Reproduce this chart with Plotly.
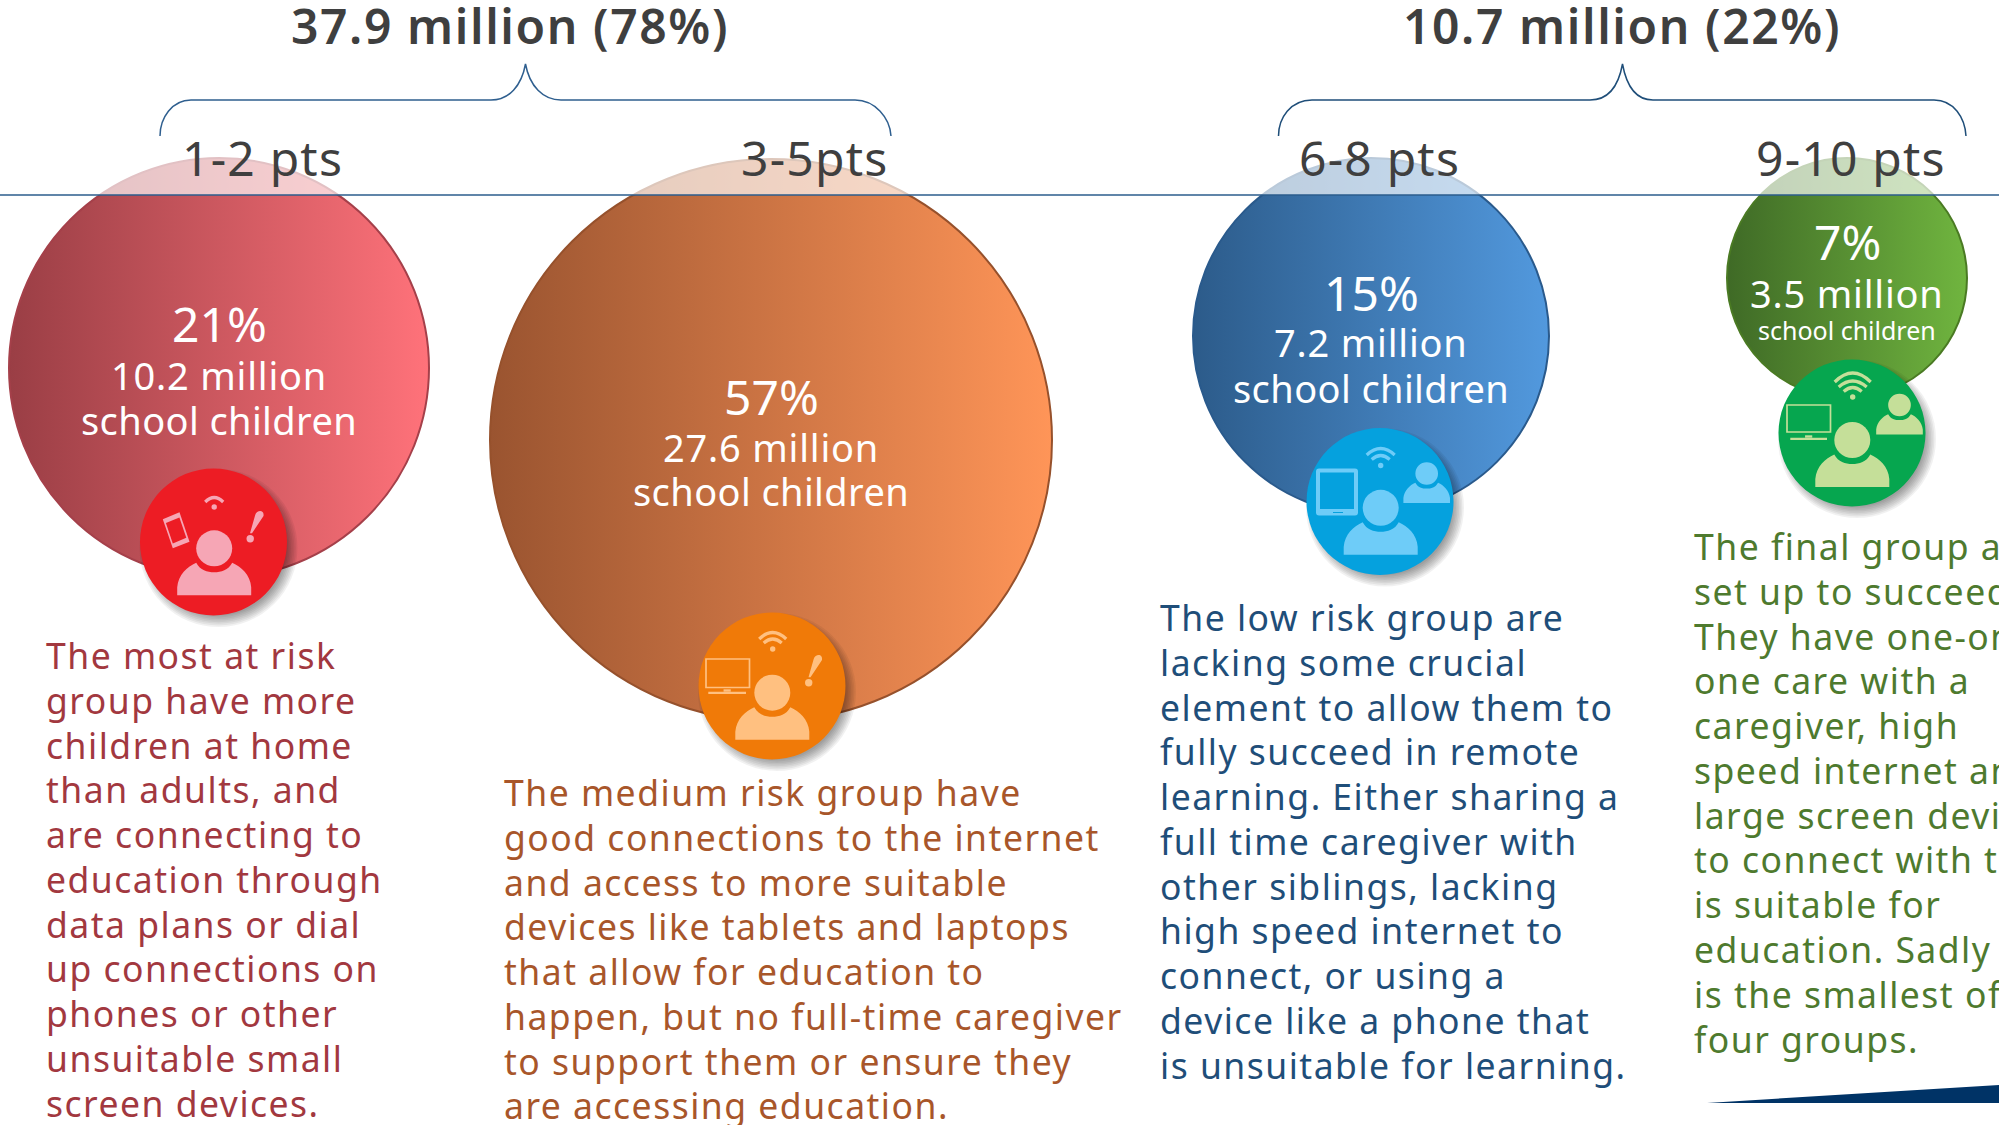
import plotly.graph_objects as go

# ---- data -------------------------------------------------------------
score_bands = ["1-2 pts", "3-5pts", "6-8 pts", "9-10 pts"]
share_pct = [21, 57, 15, 7]
children_millions = [10.2, 27.6, 7.2, 3.5]
group_totals = ["37.9 million (78%)", "10.7 million (22%)"]

red_text = ["The most at risk", "group have more", "children at home", "than adults, and",
            "are connecting to", "education through", "data plans or dial",
            "up connections on", "phones or other", "unsuitable small", "screen devices."]
orange_text = ["The medium risk group have", "good connections to the internet",
               "and access to more suitable", "devices like tablets and laptops",
               "that allow for education to", "happen, but no full-time caregiver",
               "to support them or ensure they", "are accessing education."]
blue_text = ["The low risk group are", "lacking some crucial", "element to allow them to",
             "fully succeed in remote", "learning. Either sharing a", "full time caregiver with",
             "other siblings, lacking", "high speed internet to", "connect, or using a",
             "device like a phone that", "is unsuitable for learning."]
green_text = ["The final group are", "set up to succeed.", "They have one-on-",
              "one care with a", "caregiver, high", "speed internet and",
              "large screen devices", "to connect with that", "is suitable for",
              "education. Sadly this", "is the smallest of", "four groups."]
body_text = [red_text, orange_text, blue_text, green_text]

# ---- layout and styling ----------------------------------------------
W, H = 1999, 1125
FONT = "Noto Sans"
DARK_TEXT = "#3f3f3f"
RULE = "#2b5c8c"
RULE_Y = 195

bubble_x = [219, 771, 1371, 1847]
bubble_y = [368, 440, 336, 278]
bubble_d = [420, 562, 356, 240]
bubble_dark = ["#9a3e45", "#9a5430", "#2c5b8a", "#3f6a26"]
bubble_light = ["#ff727a", "#ff9558", "#5299de", "#70b53f"]
bubble_edge = ["#a5404a", "#96512c", "#2a5a8c", "#4a7a23"]
body_colors = ["#a2383f", "#a8562a", "#1f4e79", "#4e7a2e"]
body_x = [46, 504, 1160, 1694]
body_y0 = [655, 792, 617, 546]
LINE_STEP = 44.78
BODY_SIZE = 35.5
BODY_TRACKING = 1.5

label_rows = [(323, 375, 420), (396, 447, 491), (292, 342, 388), (241, 293, 330)]
label_sizes = [(48, 38, 38), (48, 38, 38), (48, 38, 38), (48, 38, 25)]
label_tracking = [(0, 0.8, 0.4), (0, 0.8, 0.4), (0, 0.8, 0.4), (0, 0.8, 0)]
band_x = [262, 814, 1379, 1851]
BAND_Y = 157
total_x = [510, 1622]
TOTAL_Y = 25

icon_x = [213.5, 772, 1380, 1852]
icon_y = [542, 686, 501.5, 433]
ICON_R = 73.5
icon_fill = ["#ed1c24", "#f07a08", "#05a1de", "#06a64f"]
icon_glyph = ["#f6a6b5", "#ffc080", "#6eccf8", "#c5df99"]

fig = go.Figure()

# Bubbles, one trace each so every gradient and outline stays independent.
for i in range(4):
    fig.add_trace(go.Scatter(
        x=[bubble_x[i]], y=[bubble_y[i]], mode="markers", hoverinfo="skip", showlegend=False,
        marker=dict(size=bubble_d[i], color=bubble_dark[i],
                    gradient=dict(type="horizontal", color=bubble_light[i]),
                    line=dict(color=bubble_edge[i], width=2)),
    ))

shapes = []


def add_path(path, fill=None, line=None, width=0):
    shapes.append(dict(type="path", path=path, layer="above", xref="x", yref="y",
                       fillcolor=fill if fill else "rgba(0,0,0,0)",
                       line=dict(color=line if line else "rgba(0,0,0,0)", width=width)))


def add_circle(cx, cy, r, fill, opacity=1):
    shapes.append(dict(type="circle", layer="above", xref="x", yref="y", x0=cx - r, x1=cx + r,
                       y0=cy - r, y1=cy + r, fillcolor=fill, opacity=opacity,
                       line=dict(width=0)))


def add_rect(x0, y0, x1, y1, fill):
    shapes.append(dict(type="rect", layer="above", xref="x", yref="y", x0=x0, x1=x1, y0=y0, y1=y1,
                       fillcolor=fill, line=dict(width=0)))


# Wash over everything above the rule, then the rule itself.
shapes.append(dict(type="rect", layer="above", xref="x", yref="y", x0=0, x1=W, y0=0, y1=RULE_Y,
                   fillcolor="white", opacity=0.68, line=dict(width=0)))
shapes.append(dict(type="line", layer="above", xref="x", yref="y", x0=0, x1=W, y0=RULE_Y,
                   y1=RULE_Y, line=dict(color=RULE, width=1.6)))


def brace(x0, x1, x2, x3, tip, x4, x5):
    return (f"M {x0},136 C {x0},118 {x0 + 12},100 {x1},100 L {x2},100 "
            f"C {x2 + 18},100 {tip - 4},86 {tip},64 C {tip + 4},86 {x4 - 18},100 {x4},100 "
            f"L {x5},100 C {x5 + 20},100 {x3 - 1},118 {x3},136")


add_path(brace(160, 191, 491, 891, 525.5, 561, 855), line="#2f5f8f", width=1.5)
add_path(brace(1278.5, 1312, 1590, 1966, 1622.5, 1653, 1934), line="#1f4e79", width=1.5)

# Corner wedge at the bottom of the page.
add_path(f"M 1707,1103 L {W},1085 L {W},1103 Z", fill="#003366")


def person(cx, head_y, scale, color):
    add_circle(cx, head_y, 18 * scale, color)
    hw, top, neck, bot = 37 * scale, 14.5 * scale, 24 * scale, 47 * scale
    shoulder = 18 * scale
    add_path(
        f"M {cx - hw},{head_y + bot} L {cx - hw},{head_y + bot - 8 * scale} "
        f"C {cx - hw + 1},{head_y + top + 12 * scale} {cx - 27 * scale},{head_y + top + 4 * scale} "
        f"{cx - shoulder},{head_y + top} "
        f"C {cx - 14 * scale},{head_y + neck - 2 * scale} {cx - 7 * scale},{head_y + neck} {cx},{head_y + neck} "
        f"C {cx + 7 * scale},{head_y + neck} {cx + 14 * scale},{head_y + neck - 2 * scale} {cx + shoulder},{head_y + top} "
        f"C {cx + 27 * scale},{head_y + top + 4 * scale} {cx + hw - 1},{head_y + top + 12 * scale} "
        f"{cx + hw},{head_y + bot - 8 * scale} L {cx + hw},{head_y + bot} Z",
        fill=color)


def wifi(cx, dot_y, arcs, color):
    add_circle(cx, dot_y, 2.7, color)
    for half_w, end_up, peak_up in arcs:
        ctrl = dot_y - (2 * peak_up - end_up)
        add_path(f"M {cx - half_w},{dot_y - end_up} Q {cx},{ctrl} {cx + half_w},{dot_y - end_up}",
                 line=color, width=3.2)


def exclaim(cx, cy, color):
    add_path(f"M {cx + 41.7},{cy - 27} C {cx + 43},{cy - 32} {cx + 51},{cy - 33} {cx + 50},{cy - 26} "
             f"L {cx + 38.5},{cy - 8.7} L {cx + 36.5},{cy - 8.7} Z", fill=color)
    add_circle(cx + 36.7, cy - 3.3, 3.7, color)


def monitor(x0, y0, x1, y1, bar_x0, bar_x1, bar_y, color):
    add_path(f"M {x0},{y0} L {x1},{y0} L {x1},{y1} L {x0},{y1} Z", line=color, width=1.7)
    add_rect(bar_x0, bar_y, bar_x1, bar_y + 2.3, color)
    mid = (bar_x0 + bar_x1) / 2
    add_rect(mid - 3.6, bar_y - 2.4, mid + 3.6, bar_y, color)


for i in range(4):
    cx, cy = icon_x[i], icon_y[i]
    # Soft drop shadow built from stacked translucent discs.
    for k in range(8):
        add_circle(cx + 5, cy + 6, ICON_R + 5.5 - k * 1.6, "#000000", opacity=0.055)
    add_circle(cx, cy, ICON_R, icon_fill[i])

g = icon_glyph

# Red icon: phone on a weak signal.
cx, cy = icon_x[0], icon_y[0]
person(cx + 0.7, cy + 6.3, 1.0, g[0])
wifi(cx + 0.7, cy - 35, [(9, 5, 9.5)], g[0])
exclaim(cx, cy, g[0])
add_path(f"M {cx - 50.7},{cy - 22.7} L {cx - 34},{cy - 29.7} L {cx - 24},{cy - 0.3} L {cx - 40.7},{cy + 6.3} Z",
         fill=g[0])
add_path(f"M {cx - 47.6},{cy - 18.9} L {cx - 34.1},{cy - 24.6} L {cx - 27.2},{cy - 4.2} L {cx - 40.7},{cy + 1.5} Z",
         fill=icon_fill[0])

# Orange icon: monitor with a medium signal.
cx, cy = icon_x[1], icon_y[1]
person(cx + 0.3, cy + 6.7, 1.0, g[1])
wifi(cx + 0.7, cy - 37, [(9, 6, 10), (13.5, 10, 16.5)], g[1])
exclaim(cx, cy, g[1])
monitor(cx - 66, cy - 27, cx - 22.5, cy + 1.5, cx - 63.7, cx - 26, cy + 5.7, g[1])

# Blue icon: tablet and a second person.
cx, cy = icon_x[2], icon_y[2]
person(cx + 0.7, cy + 6.3, 1.0, g[2])
person(cx + 46.7, cy - 28, 0.63, g[2])
wifi(cx + 0.7, cy - 36, [(9, 6, 10), (14, 10.5, 17)], g[2])
add_path(f"M {cx - 61},{cy - 33} L {cx - 25},{cy - 33} Q {cx - 22},{cy - 33} {cx - 22},{cy - 30} "
         f"L {cx - 22},{cy + 11} Q {cx - 22},{cy + 14} {cx - 25},{cy + 14} L {cx - 61},{cy + 14} "
         f"Q {cx - 64},{cy + 14} {cx - 64},{cy + 11} L {cx - 64},{cy - 30} Q {cx - 64},{cy - 33} {cx - 61},{cy - 33} Z",
         fill=g[2])
add_rect(cx - 60, cy - 29, cx - 26, cy + 7.5, icon_fill[2])
add_rect(cx - 47, cy + 10.5, cx - 37, cy + 11.5, icon_fill[2])

# Green icon: full signal, monitor and a second person.
cx, cy = icon_x[3], icon_y[3]
person(cx + 0.3, cy + 7, 1.0, g[3])
person(cx + 47.5, cy - 28, 0.63, g[3])
wifi(cx + 0.7, cy - 36, [(9, 5.5, 9.5), (14, 10, 16), (18, 15, 24)], g[3])
monitor(cx - 65, cy - 28, cx - 21.5, cy - 1, cx - 61.7, cx - 25, cy + 4.7, g[3])

fig.update_layout(shapes=shapes)

# ---- text ------------------------------------------------------------
annotations = []


def add_text(x, y, text, size, color, anchor="center", weight=400, tracking=0):
    label = f'<span style="letter-spacing:{tracking}px">{text}</span>' if tracking else text
    annotations.append(dict(x=x, y=y, xref="x", yref="y", text=label, showarrow=False,
                            xanchor=anchor, yanchor="middle", borderpad=0, borderwidth=0,
                            font=dict(family=FONT, size=size, color=color, weight=weight)))


for x, label in zip(total_x, group_totals):
    add_text(x, TOTAL_Y, label, 48, DARK_TEXT, weight=600, tracking=1.6)
for x, label in zip(band_x, score_bands):
    add_text(x, BAND_Y, label, 48, DARK_TEXT, tracking=1.2)
for i in range(4):
    row = label_rows[i]
    size = label_sizes[i]
    track = label_tracking[i]
    add_text(bubble_x[i], row[0], f"{share_pct[i]}%", size[0], "white", tracking=track[0])
    add_text(bubble_x[i], row[1], f"{children_millions[i]} million", size[1], "white", tracking=track[1])
    add_text(bubble_x[i], row[2], "school children", size[2], "white", tracking=track[2])
    for n, line in enumerate(body_text[i]):
        add_text(body_x[i], body_y0[i] + n * LINE_STEP, line, BODY_SIZE, body_colors[i],
                 anchor="left", tracking=BODY_TRACKING)

fig.update_layout(
    width=W, height=H, autosize=False,
    margin=dict(l=0, r=0, t=0, b=0, pad=0),
    paper_bgcolor="white", plot_bgcolor="white", showlegend=False,
    xaxis=dict(range=[0, W], visible=False, fixedrange=True),
    yaxis=dict(range=[H, 0], visible=False, fixedrange=True),
    annotations=annotations,
)

fig.write_html("out.html", config=dict(displayModeBar=False))
